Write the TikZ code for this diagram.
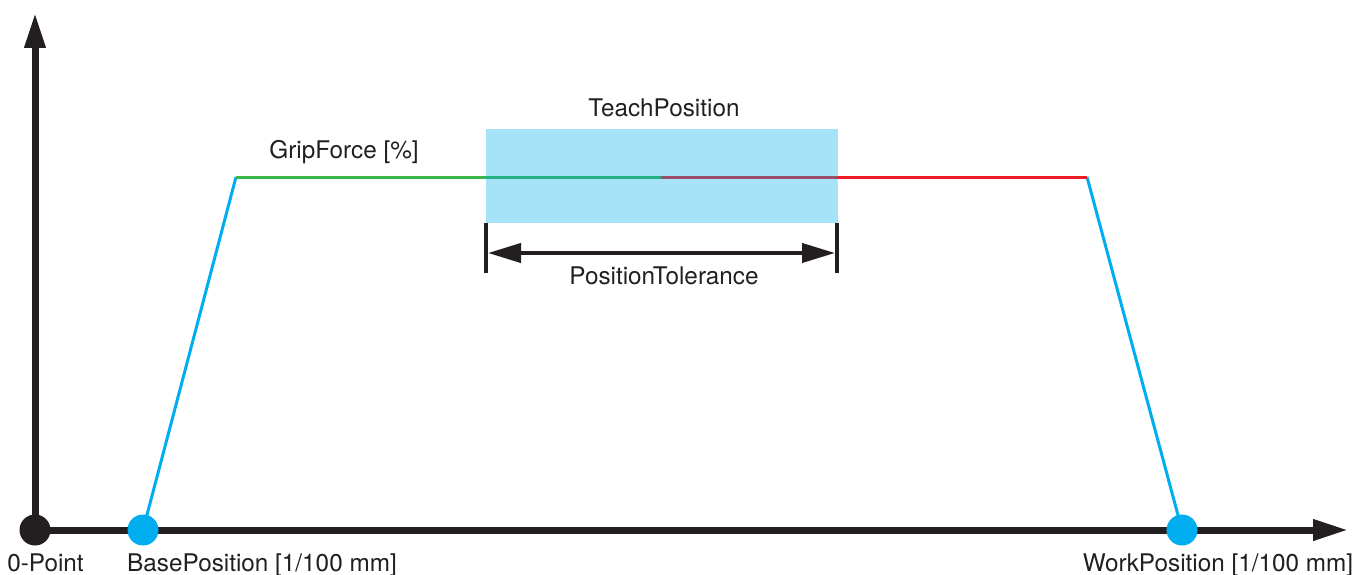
\documentclass[tikz,border=0pt]{standalone}
\usepackage{fontspec}
\setmainfont{TeX Gyre Heros}
\usetikzlibrary{arrows.meta,backgrounds}
\definecolor{ink}{HTML}{231F20}
\definecolor{cyanA}{HTML}{00AEEF}
\definecolor{greenA}{HTML}{39B54A}
\definecolor{redA}{HTML}{ED1C24}
\tikzset{
  axis/.style={draw=ink, line width=7pt, -{Triangle[length=35pt,width=20pt]}},
  dot/.style={circle, fill=#1, minimum size=31pt, inner sep=0pt},
  ramp/.style={draw=cyanA, line width=3pt},
  level/.style={line width=3pt},
  tolbox/.style={fill=cyanA, fill opacity=0.35, draw=none},
  tick/.style={draw=ink, line width=4pt},
  dim/.style={draw=ink, line width=4pt, {Triangle[length=33pt,width=19pt]}-{Triangle[length=33pt,width=19pt]}},
  lbl/.style={text=ink, inner sep=0pt, anchor=base, font=\fontsize{24.3}{28}\selectfont}
}
\begin{document}
\begin{tikzpicture}[x=1pt,y=-1pt]
\useasboundingbox (0,0) rectangle (1356,575);

% points on the position axis
\node[dot=ink] (zero) at (35,530) {};
\node[dot=cyanA] (base) at (143,530) {};
\node[dot=cyanA] (work) at (1182,530) {};

% corners of the grip force profile
\coordinate (c1) at (236,177);
\coordinate (cm) at (661,177);
\coordinate (c2) at (1087,177);
\coordinate (ytip) at (35,13);
\coordinate (xtip) at (1348,530);

\begin{scope}[on background layer]
  % axes
  \draw[axis] (zero.center) -- (ytip);
  \draw[axis] (zero.center) -- (xtip);
  % grip force profile
  \draw[ramp] (base.center) -- (c1);
  \draw[ramp] (c2) -- (work.center);
  \draw[level, greenA] (c1) -- (cm);
  \draw[level, redA] (cm) -- (c2);
\end{scope}

% teach window with its tolerance
\fill[tolbox] (486,129) rectangle (838,223);
\coordinate (tl) at (486,223);
\coordinate (tr) at (837,223);
\coordinate (bl) at (486,273);
\coordinate (br) at (837,273);
\draw[tick] (tl) -- (bl);
\draw[tick] (tr) -- (br);
\coordinate (al) at (488,253);
\coordinate (ar) at (835,253);
\draw[dim] (al) -- (ar);

% labels
\node[lbl] (teach) at (664,117) {TeachPosition};
\node[lbl] (tol) at (664,284) {PositionTolerance};
\node[lbl] (grip) at (344,158) {GripForce [\%]};
\node[lbl] (zl) at (45.5,571) {0-Point};
\node[lbl] (bl2) at (262,571) {BasePosition [1/100 mm]};
\node[lbl] (wl) at (1218,571) {WorkPosition [1/100 mm]};
\end{tikzpicture}
\end{document}
